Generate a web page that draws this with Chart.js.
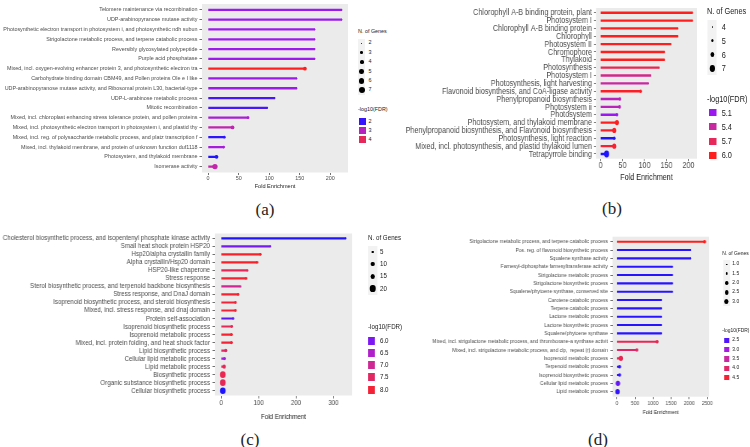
<!DOCTYPE html>
<html lang="en">
<head>
  <meta charset="UTF-8">
  <title>Enrichment lollipop panels</title>
  <script src="https://cdn.jsdelivr.net/npm/chart.js"></script>
  <style>
    body { margin: 0; background: #fff; width: 750px; height: 447px; position: relative; overflow: hidden; font-family: "Liberation Sans", Arial, sans-serif; }
    .panel { position: absolute; transform-origin: 0 0; }
    .panel canvas { position: absolute; left: 0; top: 0; }
    .lg { position: absolute; white-space: nowrap; line-height: 1; color: #1a1a1a; transform: translateY(-50%); }
    .key { position: absolute; background: #f2f2f2; }
    .dot { position: absolute; border-radius: 50%; background: #000; }
    .sw { position: absolute; }
    .tag { position: absolute; font-family: "Liberation Serif", "Times New Roman", serif; font-size: 17px; color: #222; transform: translate(-50%, -50%); }
  </style>
</head>
<body>
  <div class="panel" id="pa"><canvas id="ca"></canvas></div>
  <div class="panel" id="pb"><canvas id="cb"></canvas></div>
  <div class="panel" id="pc"><canvas id="cc"></canvas></div>
  <div class="panel" id="pd"><canvas id="cd"></canvas></div>
  <div class="tag" style="left:265px;top:210px">(a)</div>
  <div class="tag" style="left:612px;top:209px">(b)</div>
  <div class="tag" style="left:250px;top:440px">(c)</div>
  <div class="tag" style="left:598px;top:440px">(d)</div>

<script>
// ---- panel (a)
const termsA = [
  'Telomere maintenance via recombination',
  'UDP-arabinopyranose mutase activity',
  'Photosynthetic electron transport in photosystem i, and photosynthetic ndh subun',
  'Strigolactone metabolic process, and terpene catabolic process',
  'Reversibly glycosylated polypeptide',
  'Purple acid phosphatase',
  'Mixed, incl. oxygen-evolving enhancer protein 3, and photosynthetic electron tra',
  'Carbohydrate binding domain CBM49, and Pollen proteins Ole e I like',
  'UDP-arabinopyranose mutase activity, and Ribosomal protein L30, bacterial-type',
  'UDP-L-arabinose metabolic process',
  'Mitotic recombination',
  'Mixed, incl. chloroplast enhancing stress tolerance protein, and pollen proteins',
  'Mixed, incl. photosynthetic electron transport in photosystem i, and plastid thy',
  'Mixed, incl. reg. of polysaccharide metabolic process, and platz transcription f',
  'Mixed, incl. thylakoid membrane, and protein of unknown function duf1118',
  'Photosystem, and thylakoid membrane',
  'Isomerase activity'
];
const foldA = [218.6, 218.6, 174.5, 174.5, 174.5, 174.5, 158.5, 145, 145, 109, 97, 65.4, 40, 26.6, 25.5, 13.8, 11.2];
const genesA = [2, 2, 2, 2, 2, 2, 4, 2, 2, 2, 2, 3, 4, 3, 3, 4, 6];
const fdrA = [2.6, 2.6, 2.6, 2.6, 2.6, 2.6, 4.7, 2.6, 2.6, 2.1, 2.1, 2.8, 3.15, 1.95, 2.75, 1.86, 3.2];
const ticksA = [0, 50, 100, 150, 200];
const geneKeysA = ['2', '3', '4', '5', '6', '7'];
const fdrKeysA = ['2', '3', '4'];

// ---- panel (b)
const termsB = [
  'Chlorophyll A-B binding protein, plant',
  'Photosystem I',
  'Chlorophyll A-B binding protein',
  'Chlorophyll',
  'Photosystem II',
  'Chromophore',
  'Thylakoid',
  'Photosynthesis',
  'Photosystem I',
  'Photosynthesis, light harvesting',
  'Flavonoid biosynthesis, and CoA-ligase activity',
  'Phenylpropanoid biosynthesis',
  'Photosystem ii',
  'Photosystem',
  'Photosystem, and thylakoid membrane',
  'Phenylpropanoid biosynthesis, and Flavonoid biosynthesis',
  'Photosynthesis, light reaction',
  'Mixed, incl. photosynthesis, and plastid thylakoid lumen',
  'Tetrapyrrole binding'
];
const foldB = [209, 209, 175.7, 175.7, 159.7, 145.2, 145.2, 133, 114, 108.7, 91.3, 44, 43.3, 37.3, 37.3, 31.2, 31.2, 31.2, 13.7];
const genesB = [4, 4, 4, 4, 4, 4, 4, 4, 4, 4, 5, 5, 5, 5, 6, 6, 5, 6, 7];
const fdrB = [6, 6, 6, 6, 6, 6, 6, 5.75, 5.5, 5.4, 5.95, 5.3, 5.3, 5.1, 6, 5.95, 4.8, 5.9, 4.8];
const ticksB = [0, 50, 100, 150, 200];
const geneKeysB = ['4', '5', '6', '7'];
const fdrKeysB = ['5.1', '5.4', '5.7', '6.0'];

// ---- panel (c)
const termsC = [
  'Cholesterol biosynthetic process, and isopentenyl phosphate kinase activity',
  'Small heat shock protein HSP20',
  'Hsp20/alpha crystallin family',
  'Alpha crystallin/Hsp20 domain',
  'HSP20-like chaperone',
  'Stress response',
  'Sterol biosynthetic process, and terpenoid backbone biosynthesis',
  'Stress response, and DnaJ domain',
  'Isoprenoid biosynthetic process, and steroid biosynthesis',
  'Mixed, incl. stress response, and dnaj domain',
  'Protein self-association',
  'Isoprenoid biosynthetic process',
  'Isoprenoid metabolic process',
  'Mixed, incl. protein folding, and heat shock factor',
  'Lipid biosynthetic process',
  'Cellular lipid metabolic process',
  'Lipid metabolic process',
  'Biosynthetic process',
  'Organic substance biosynthetic process',
  'Cellular biosynthetic process'
];
const foldC = [332.8, 131.4, 104.7, 95.9, 70, 66.6, 51.5, 45.3, 38.2, 38.2, 32, 28.4, 27.5, 27.5, 12.4, 8.9, 8, 4.4, 4.4, 4.4];
const genesC = [3, 4, 6, 6, 5, 6, 4, 6, 6, 6, 5, 6, 7, 7, 8, 8, 10, 22, 22, 22];
const fdrC = [5.45, 5.95, 8.2, 8.2, 7.6, 8.1, 7.0, 8.1, 8.0, 8.0, 5.8, 7.6, 8.1, 8.0, 7.5, 6.3, 7.6, 7.7, 7.6, 5.45];
const ticksC = [0, 100, 200, 300];
const geneKeysC = ['5', '10', '15', '20'];
const fdrKeysC = ['6.0', '6.5', '7.0', '7.5', '8.0'];

// ---- panel (d)
const termsD = [
  'Strigolactone metabolic process, and terpene catabolic process',
  'Pos. reg. of flavonoid biosynthetic process',
  'Squalene synthase activity',
  'Farnesyl-diphosphate farnesyltransferase activity',
  'Strigolactone metabolic process',
  'Strigolactone biosynthetic process',
  'Squalene/phytoene synthase, conserved site',
  'Carotene catabolic process',
  'Terpene catabolic process',
  'Lactone metabolic process',
  'Lactone biosynthetic process',
  'Squalene/phytoene synthase',
  'Mixed, incl. strigolactone metabolic process, and thromboxane-a synthase activit',
  'Mixed, incl. strigolactone metabolic process, and clp,  repeat (r) domain',
  'Isoprenoid metabolic process',
  'Terpenoid metabolic process',
  'Isoprenoid biosynthetic process',
  'Cellular lipid metabolic process',
  'Lipid metabolic process'
];
const foldD = [2426, 2040, 2040, 1535, 1535, 1535, 1535, 1232, 1232, 1232, 1232, 1232, 1112, 551, 110, 74, 74, 28, 18];
const genesD = [2, 1, 1, 1, 1, 1, 1, 1, 1, 1, 1, 1, 2, 2, 3, 2, 2, 3, 3];
const fdrD = [4.75, 2.3, 2.3, 2.3, 2.3, 2.3, 2.3, 2.3, 2.3, 2.3, 2.3, 2.3, 4.2, 4.0, 4.2, 2.35, 2.35, 2.6, 2.35];
const ticksD = [0, 500, 1000, 1500, 2000, 2500];
const geneKeysD = ['1.0', '1.5', '2.0', '2.5', '3.0'];
const fdrKeysD = ['2.5', '3.0', '3.5', '4.0', '4.5'];

// layout of each panel (inner px; the box is squeezed sideways by sx)
const layoutA = { left: 0, top: 0, sx: 1, w: 352, h: 191, pl: 202, pr: 350, pt: 0.5, pb: 172.5,
  xMin: -10, xMax: 229, font: 5.4, titleFont: 5.6, tick: 2.5, yPad: 2, xPad: 0.6, titlePad: 0.9, bar: 1.6,
  gLo: 2, gHi: 7, rMin: 0.8, rMax: 3, cLo: 1.86, cHi: 4.71,
  lgX: 358, lgT1: 32, lgT2: 110, dotX: 361.7, numX: 368.5, gy0: 43.3, gdy: 9.4, keyW: 7.5,
  swX: 359.3, swW: 6.5, swH: 6.5, cy0: 121.7, cdy: 9, lgFont: 5.4 };
const layoutB = { left: 400, top: 0, sx: 0.75, w: 400, h: 186, pl: 261.3, pr: 396, pt: 8, pb: 158.7,
  xMin: -10.45, xMax: 219.5, font: 9.6, titleFont: 9.6, tick: 2.5, yPad: 2.8, xPad: -0.3, titlePad: 2.5, bar: 1.7,
  gLo: 4, gHi: 7, rMin: 0.9, rMax: 3.4, cLo: 4.8, cHi: 6.0,
  lgX: 409.3, lgT1: 11, lgT2: 99, dotX: 416.4, numX: 428.9, gy0: 26.7, gdy: 13.9, keyW: 12,
  swX: 412.4, swW: 9.3, swH: 7, cy0: 112.7, cdy: 14.2, lgFont: 9.8 };
const layoutC = { left: 0, top: 220, sx: 0.85, w: 421, h: 205, pl: 252.9, pr: 414.1, pt: 13.5, pb: 175.5,
  xMin: -16.6, xMax: 349.4, font: 7.3, titleFont: 7.3, tick: 3, yPad: 2.8, xPad: 1.15, titlePad: 3.6, bar: 1.5,
  gLo: 3, gHi: 22, rMin: 0.8, rMax: 3.3, cLo: 5.45, cHi: 8.3,
  lgX: 433, lgT1: 17.7, lgT2: 106.7, dotX: 438.5, numX: 447, gy0: 32, gdy: 12.2, keyW: 11,
  swX: 433.3, swW: 8, swH: 8, cy0: 121, cdy: 12.15, lgFont: 7.3 };
const layoutD = { left: 425, top: 220, sx: 0.85, w: 341, h: 198, pl: 220.6, pr: 334.1, pt: 16.7, pb: 176.7,
  xMin: -121, xMax: 2547, font: 5.8, titleFont: 5.8, tick: 2.5, yPad: 3, xPad: 1.2, titlePad: 2.5, bar: 1.4,
  gLo: 1, gHi: 3, rMin: 0.8, rMax: 2.6, cLo: 2.25, cHi: 4.75,
  lgX: 349.8, lgT1: 34.3, lgT2: 111, dotX: 354.9, numX: 361.5, gy0: 44.3, gdy: 9.35, keyW: 8.5,
  swX: 351.5, swW: 6.7, swH: 5.5, cy0: 120.3, cdy: 9.35, lgFont: 5.8 };

// blue -> violet -> crimson -> red colour ramp, as seen in the legends
const ramp = [[30, 20, 255], [155, 25, 240], [200, 40, 160], [230, 40, 90], [255, 30, 30]];
function fdrColor(v, lo, hi) {
  const t = Math.max(0, Math.min(1, (v - lo) / (hi - lo))) * (ramp.length - 1);
  const i = Math.min(Math.floor(t), ramp.length - 2), f = t - i;
  const c = ramp[i].map((a, k) => Math.round(a + (ramp[i + 1][k] - a) * f));
  return `rgb(${c[0]},${c[1]},${c[2]})`;
}

const panelBg = {
  id: 'panelBg',
  beforeDraw(chart) {
    const a = chart.chartArea, ctx = chart.ctx;
    ctx.save();
    ctx.fillStyle = '#ebebeb';
    ctx.fillRect(a.left, a.top, a.right - a.left, a.bottom - a.top);
    ctx.restore();
  }
};

function addLegend(box, L, geneKeys, fdrKeys, rad, col) {
  const put = (cls, css, text) => {
    const d = document.createElement('div');
    d.className = cls;
    Object.assign(d.style, css);
    if (text !== undefined) d.textContent = text;
    box.appendChild(d);
  };
  const fs = L.lgFont + 'px';
  put('lg', { left: L.lgX + 'px', top: L.lgT1 + 'px', fontSize: fs }, 'N. of Genes');
  put('key', { left: (L.dotX - L.keyW / 2) + 'px', top: (L.gy0 - L.gdy / 2) + 'px', width: L.keyW + 'px', height: (L.gdy * geneKeys.length) + 'px' });
  geneKeys.forEach((k, i) => {
    const y = L.gy0 + i * L.gdy, r = rad(parseFloat(k));
    put('dot', { left: (L.dotX - r) + 'px', top: (y - r) + 'px', width: 2 * r + 'px', height: 2 * r + 'px' });
    put('lg', { left: L.numX + 'px', top: y + 'px', fontSize: fs }, k);
  });
  put('lg', { left: L.lgX + 'px', top: L.lgT2 + 'px', fontSize: fs }, '-log10(FDR)');
  fdrKeys.forEach((k, i) => {
    const y = L.cy0 + i * L.cdy;
    put('sw', { left: L.swX + 'px', top: (y - L.swH / 2) + 'px', width: L.swW + 'px', height: L.swH + 'px', background: col(parseFloat(k)) });
    put('lg', { left: L.numX + 'px', top: y + 'px', fontSize: fs }, k);
  });
}

function drawPanel(id, L, terms, fold, genes, fdr, ticks, geneKeys, fdrKeys) {
  const box = document.getElementById(id);
  box.style.left = L.left + 'px';
  box.style.top = L.top + 'px';
  box.style.transform = `scale(${L.sx}, 1)`;
  const cv = box.querySelector('canvas');
  cv.width = L.w;
  cv.height = L.h;

  const n = terms.length;
  const rad = g => L.rMin + (L.rMax - L.rMin) * (Math.sqrt(g) - Math.sqrt(L.gLo)) / (Math.sqrt(L.gHi) - Math.sqrt(L.gLo));
  const col = v => fdrColor(v, L.cLo, L.cHi);
  const colors = fdr.map(col);
  const pts = fold.map((v, i) => ({ x: v, y: i }));
  const font = { family: 'Liberation Sans', size: L.font, lineHeight: 1 };

  new Chart(cv, {
    type: 'bar',
    data: {
      datasets: [
        { type: 'scatter', data: pts, pointRadius: genes.map(rad), pointBackgroundColor: colors, pointBorderWidth: 0, order: 0 },
        { type: 'bar', data: pts, backgroundColor: colors, barThickness: L.bar, order: 1 }
      ]
    },
    options: {
      indexAxis: 'y',
      responsive: false,
      animation: false,
      events: [],
      layout: { padding: { left: 0, right: L.w - L.pr, top: L.pt, bottom: 0 } },
      plugins: { legend: { display: false }, tooltip: { enabled: false } },
      scales: {
        x: {
          type: 'linear', min: L.xMin, max: L.xMax, offset: false,
          afterBuildTicks: s => { s.ticks = ticks.map(v => ({ value: v })); },
          afterFit: s => { s.height = L.h - L.pb; s.paddingLeft = 0; s.paddingRight = 0; },
          border: { display: false },
          grid: { offset: false, drawOnChartArea: false, tickLength: L.tick, tickColor: '#333', tickWidth: 0.7 },
          ticks: { autoSkip: false, maxRotation: 0, padding: L.xPad, color: '#4d4d4d', font, callback: v => String(v) },
          title: { display: true, text: 'Fold Enrichment', color: '#222', font: { family: 'Liberation Sans', size: L.titleFont, lineHeight: 1.2 }, padding: { top: 0, bottom: L.titlePad } }
        },
        y: {
          type: 'linear', min: -0.6, max: n - 0.4, reverse: true, offset: false,
          afterFit: s => { s.width = L.pl; s.paddingTop = 0; s.paddingBottom = 0; },
          border: { display: false },
          grid: { offset: false, drawOnChartArea: false, tickLength: L.tick, tickColor: '#333', tickWidth: 0.7 },
          ticks: { stepSize: 1, autoSkip: false, includeBounds: false, maxTicksLimit: 100, padding: L.yPad, color: '#4d4d4d', font, callback: v => terms[v] }
        }
      }
    },
    plugins: [panelBg]
  });

  addLegend(box, L, geneKeys, fdrKeys, rad, col);
}

drawPanel('pa', layoutA, termsA, foldA, genesA, fdrA, ticksA, geneKeysA, fdrKeysA);
drawPanel('pb', layoutB, termsB, foldB, genesB, fdrB, ticksB, geneKeysB, fdrKeysB);
drawPanel('pc', layoutC, termsC, foldC, genesC, fdrC, ticksC, geneKeysC, fdrKeysC);
drawPanel('pd', layoutD, termsD, foldD, genesD, fdrD, ticksD, geneKeysD, fdrKeysD);
</script>
</body>
</html>
